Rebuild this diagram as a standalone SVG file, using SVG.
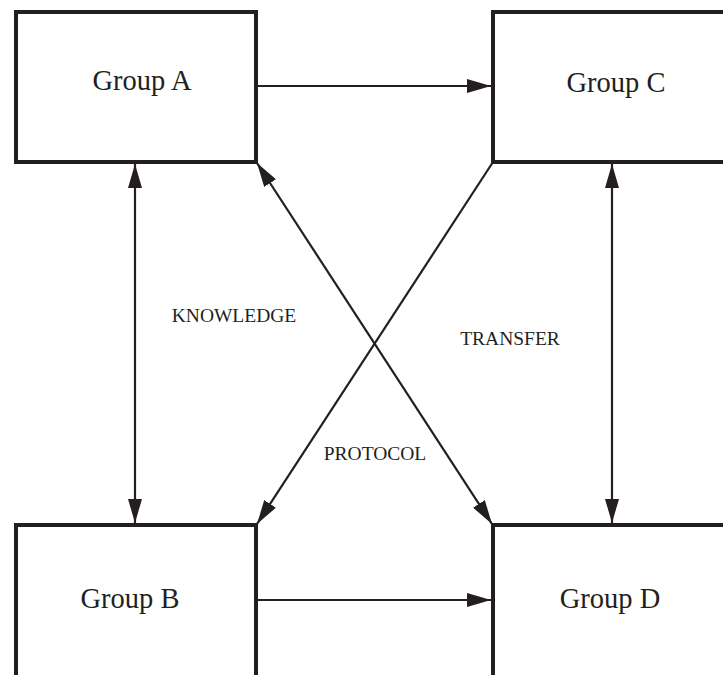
<svg xmlns="http://www.w3.org/2000/svg" width="723" height="675" viewBox="0 0 723 675">
<defs>
<style>
.box{fill:#fff;stroke:#231f20;stroke-width:4}
.t{font-family:"Liberation Serif","DejaVu Serif",serif;fill:#231f20;text-anchor:middle}
.g{font-size:28.5px}
.l{font-size:19.5px}
.c{stroke:#231f20;stroke-width:2.2;fill:none}
</style>
<marker id="ah" viewBox="0 0 24 14" refX="24" refY="7" markerWidth="24" markerHeight="14" markerUnits="userSpaceOnUse" orient="auto-start-reverse">
<path d="M0,0 L24,7 L0,14 Z" fill="#231f20"/>
</marker>
</defs>
<rect width="723" height="675" fill="#fff"/>
<g id="connectors">
<line class="c" x1="258" y1="86" x2="491" y2="86" marker-end="url(#ah)"/>
<line class="c" x1="258" y1="600" x2="491" y2="600" marker-end="url(#ah)"/>
<line class="c" x1="135" y1="164" x2="135" y2="523" marker-start="url(#ah)" marker-end="url(#ah)"/>
<line class="c" x1="612" y1="164" x2="612" y2="523" marker-start="url(#ah)" marker-end="url(#ah)"/>
<line class="c" x1="257" y1="163" x2="492" y2="524" marker-start="url(#ah)" marker-end="url(#ah)"/>
<line class="c" x1="493" y1="162" x2="257" y2="524" marker-end="url(#ah)"/>
</g>
<g id="groupA"><rect class="box" x="16" y="12" width="240" height="150"/><text class="t g" x="142" y="90">Group A</text></g>
<g id="groupC"><rect class="box" x="493" y="12" width="240" height="150"/><text class="t g" x="616" y="92">Group C</text></g>
<g id="groupB"><rect class="box" x="16" y="525" width="240" height="160"/><text class="t g" x="130" y="608">Group B</text></g>
<g id="groupD"><rect class="box" x="493" y="525" width="240" height="160"/><text class="t g" x="610" y="608">Group D</text></g>
<g id="labels">
<text class="t l" x="234" y="322">KNOWLEDGE</text>
<text class="t l" x="510" y="345">TRANSFER</text>
<text class="t l" x="375" y="460">PROTOCOL</text>
</g>
</svg>
